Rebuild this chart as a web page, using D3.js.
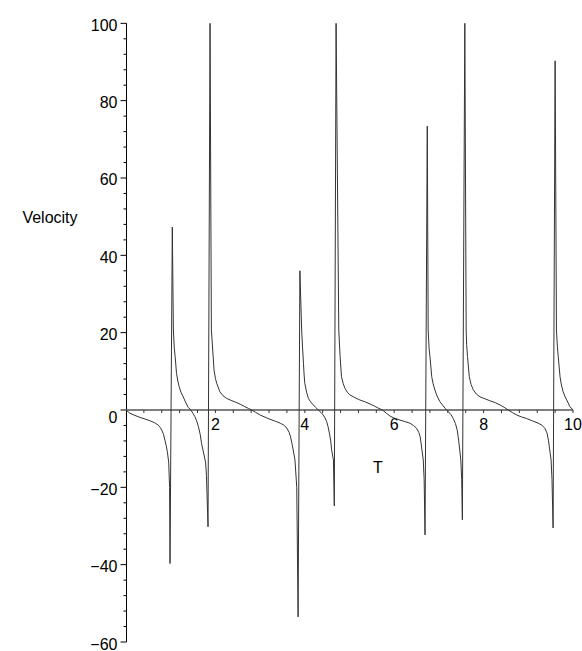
<!DOCTYPE html>
<html>
<head>
<meta charset="utf-8">
<script src="https://cdn.jsdelivr.net/npm/d3@7"></script>
<style>
  html, body { margin: 0; padding: 0; background: #fff; }
  svg { display: block; }
  text { font-family: "Liberation Sans", Arial, Helvetica, sans-serif; font-size: 16px; fill: #000; }
</style>
</head>
<body>
<svg id="chart" width="582" height="651"></svg>
<script>
// ---- data ----
const tValues = [
  0, 0.09, 0.2, 0.31, 0.43, 0.54, 0.64, 0.72, 0.77, 0.80, 0.84, 0.87, 0.90, 0.925, 0.955, 0.975, 0.985,
  1.036, 1.06, 1.08, 1.10, 1.13, 1.16, 1.19, 1.23, 1.28, 1.33, 1.39, 1.45, 1.50, 1.54, 1.58, 1.62, 1.66, 1.69, 1.745, 1.78, 1.80, 1.835,
  1.88, 1.91, 1.94, 1.97, 2.0, 2.03, 2.10, 2.17, 2.25, 2.37, 2.48, 2.57, 2.66, 2.74, 2.81, 2.9, 3.0, 3.11, 3.22, 3.34, 3.45, 3.53, 3.6, 3.65, 3.68, 3.71, 3.74, 3.78, 3.82, 3.85,
  3.89, 3.93, 3.95, 3.97, 3.985, 4.0, 4.04, 4.08, 4.13, 4.19, 4.25, 4.30, 4.36, 4.41, 4.45, 4.49, 4.52, 4.55, 4.58, 4.60, 4.64, 4.66,
  4.70, 4.76, 4.78, 4.79, 4.82, 4.86, 4.90, 4.95, 5.01, 5.12, 5.23, 5.35, 5.46, 5.56, 5.64, 5.74, 5.82, 5.91, 6.02, 6.13, 6.24, 6.35, 6.43, 6.50, 6.55, 6.58, 6.60, 6.62, 6.65, 6.67, 6.69,
  6.74, 6.76, 6.78, 6.80, 6.84, 6.87, 6.91, 6.96, 7.02, 7.08, 7.14, 7.17, 7.21, 7.27, 7.32, 7.37, 7.41, 7.43, 7.45, 7.49, 7.51, 7.525,
  7.58, 7.61, 7.62, 7.64, 7.68, 7.72, 7.77, 7.84, 7.92, 8.03, 8.14, 8.26, 8.37, 8.46, 8.55, 8.65, 8.74, 8.85, 8.96, 9.09, 9.22, 9.30, 9.37, 9.42, 9.45, 9.47, 9.49, 9.51, 9.53, 9.555,
  9.60, 9.63, 9.65, 9.67, 9.71, 9.74, 9.78, 9.82, 9.86, 9.93, 10.0
];
const velocityValues = [
  0, -0.86, -1.4, -1.9, -2.35, -2.8, -3.3, -3.9, -4.6, -5.2, -6.3, -7.8, -9.2, -10.8, -13.5, -20, -39.7,
  47.3, 20.7, 16, 13.8, 9.5, 7.5, 6.0, 4.6, 3.4, 2.1, 0.7, 0, -0.9, -1.7, -2.8, -4.3, -6.3, -8.6, -11.6, -13.5, -17, -30.2,
  100, 20.7, 15.5, 10.3, 8.2, 6.9, 4.7, 3.7, 3.0, 2.4, 1.9, 1.4, 0.86, 0.4, 0, -0.6, -1.3, -1.85, -2.4, -2.9, -3.4, -3.9, -4.7, -5.8, -6.9, -8.5, -10.3, -12.9, -20, -53.5,
  36, 20.7, 16, 12.1, 9, 6.9, 4.6, 3.0, 2.1, 1.3, 0.6, 0, -0.6, -1.3, -2.0, -3.0, -4.3, -6.0, -8.0, -10.3, -12.9, -24.8,
  100, 20.7, 16, 13.8, 8.6, 6.8, 5.6, 4.6, 3.9, 3.2, 2.6, 2.1, 1.55, 1.0, 0.5, 0, -0.8, -1.6, -2.2, -2.6, -3.0, -3.4, -4.0, -4.7, -5.8, -6.9, -8.5, -10.3, -12.9, -18, -32.3,
  73.4, 20.7, 16, 13.8, 8.6, 6.8, 5.2, 3.6, 2.2, 1.3, 0.43, 0, -0.43, -1.2, -2.2, -3.5, -5.2, -6.8, -8.6, -12.9, -18, -28.4,
  100, 20.7, 17, 13.8, 8.6, 6.6, 5.2, 4.1, 3.4, 2.9, 2.4, 1.9, 1.3, 0.7, 0, -0.7, -1.3, -1.8, -2.2, -2.8, -3.4, -3.9, -4.7, -6.0, -7.8, -9.5, -11.2, -12.9, -18, -30.5,
  90.3, 20.7, 16.5, 13.8, 8.6, 6.5, 4.7, 3.5, 2.6, 0.86, 0
];
const xMajorTicks = [2, 4, 6, 8, 10];
const xMinorTicks = [0.4, 0.8, 1.2, 1.6, 2.4, 2.8, 3.2, 3.6, 4.4, 4.8, 5.2, 5.6, 6.4, 6.8, 7.2, 7.6, 8.4, 8.8, 9.2, 9.6];
const yMajorTicks = [-60, -40, -20, 0, 20, 40, 60, 80, 100];
const yMinorTicks = d3.range(-56, 100, 4).filter(v => v % 20 !== 0);
const xLabel = "T";
const yLabel = "Velocity";

// ---- drawing ----
const svg = d3.select("#chart");
const x = d3.scaleLinear().domain([0, 10]).range([126, 573]);
const y = d3.scaleLinear().domain([-60, 100]).range([642, 23.333]);

const data = tValues.map((t, i) => ({ t, v: velocityValues[i] }));

// Y axis
const yAxis = svg.append("g").attr("transform", `translate(${x(0) + 0.5},0)`);
yAxis.append("line").attr("x1", 0).attr("x2", 0).attr("y1", y(-60)).attr("y2", y(100))
  .attr("stroke", "#000").attr("stroke-width", 1);
yAxis.selectAll(".ymaj").data(yMajorTicks).join("line")
  .attr("x1", -6).attr("x2", 0).attr("y1", d => y(d)).attr("y2", d => y(d))
  .attr("stroke", "#000").attr("stroke-width", 1);
yAxis.selectAll(".ymin").data(yMinorTicks).join("line")
  .attr("x1", -3).attr("x2", 0).attr("y1", d => y(d)).attr("y2", d => y(d))
  .attr("stroke", "#000").attr("stroke-width", 1);
yAxis.selectAll("text").data(yMajorTicks).join("text")
  .attr("x", -9).attr("y", d => y(d) + (d === 0 ? 8 : 2))
  .attr("text-anchor", "end").attr("dominant-baseline", "central")
  .text(d => d < 0 ? "\u2212" + Math.abs(d) : String(d));

// X axis
const xAxis = svg.append("g").attr("transform", `translate(0,${y(0)})`);
xAxis.append("line").attr("x1", x(0)).attr("x2", x(10)).attr("y1", 0).attr("y2", 0)
  .attr("stroke", "#555").attr("stroke-width", 1.4);
xAxis.selectAll(".xmaj").data(xMajorTicks).join("line")
  .attr("x1", d => x(d)).attr("x2", d => x(d)).attr("y1", 0).attr("y2", 3)
  .attr("stroke", "#333").attr("stroke-width", 1);
xAxis.selectAll(".xmin").data(xMinorTicks).join("line")
  .attr("x1", d => x(d)).attr("x2", d => x(d)).attr("y1", 0).attr("y2", 3)
  .attr("stroke", "#333").attr("stroke-width", 1);
xAxis.selectAll("text").data(xMajorTicks).join("text")
  .attr("x", d => x(d)).attr("y", 20)
  .attr("text-anchor", "middle")
  .text(d => String(d));

// Axis titles
svg.append("text").attr("x", 50).attr("y", 217).attr("text-anchor", "middle")
  .attr("dominant-baseline", "central").text(yLabel);
svg.append("text").attr("x", 378).attr("y", 467).attr("text-anchor", "middle")
  .attr("dominant-baseline", "central").text(xLabel);

// Curve
const line = d3.line().x(d => x(d.t)).y(d => y(d.v));
svg.append("path").datum(data).attr("d", line)
  .attr("fill", "none").attr("stroke", "#333").attr("stroke-width", 1)
  .attr("stroke-linejoin", "miter");
</script>
</body>
</html>
